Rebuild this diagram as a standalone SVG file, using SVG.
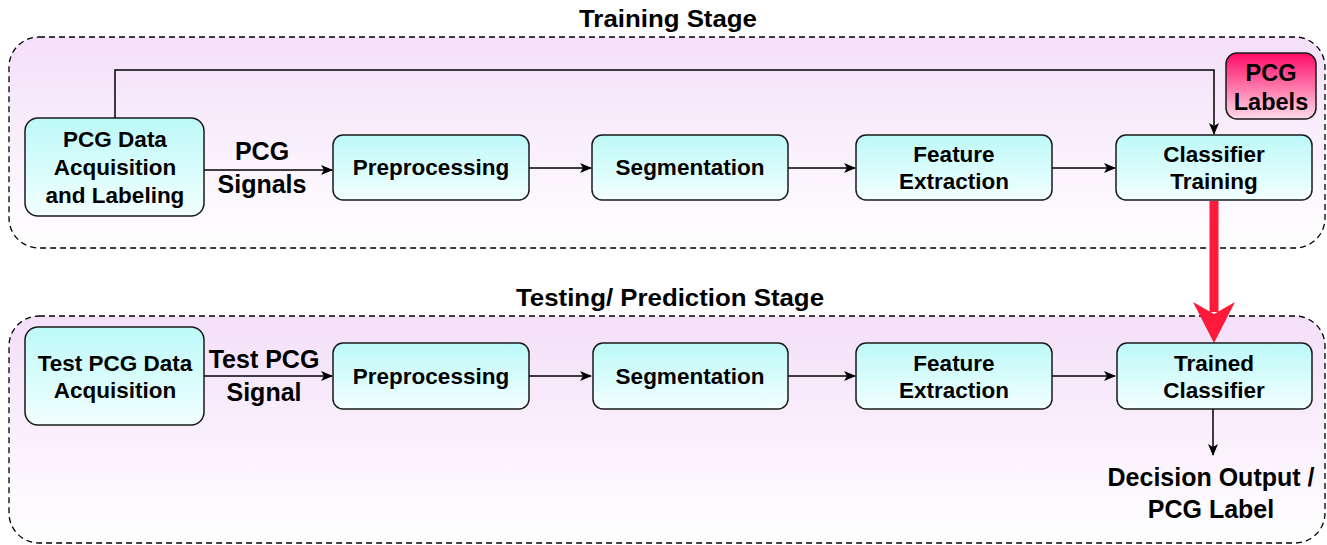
<svg xmlns="http://www.w3.org/2000/svg" width="1327" height="545" viewBox="0 0 1327 545">
  <defs>
    <linearGradient id="stageFill" x1="0" y1="0" x2="0" y2="1">
      <stop offset="0" stop-color="#f4dff9"/>
      <stop offset="1" stop-color="#ffffff"/>
    </linearGradient>
    <linearGradient id="nodeFill" x1="0" y1="0" x2="0" y2="1">
      <stop offset="0" stop-color="#bcf9f8"/>
      <stop offset="1" stop-color="#f3ffff"/>
    </linearGradient>
    <linearGradient id="labelFill" x1="0" y1="0" x2="0" y2="1">
      <stop offset="0" stop-color="#ff0a64"/>
      <stop offset="1" stop-color="#ffdcea"/>
    </linearGradient>
    <marker id="arrow" viewBox="0 0 12 10" refX="11" refY="5" markerWidth="12" markerHeight="10" markerUnits="userSpaceOnUse" orient="auto">
      <path d="M0,0 L12,5 L0,10 L3,5 Z" fill="#000"/>
    </marker>
  </defs>
  <style>
    .stage { fill: url(#stageFill); stroke: #000; stroke-width: 1.3; stroke-dasharray: 6 4; }
    .node { fill: url(#nodeFill); stroke: #1a1a1a; stroke-width: 1.5; }
    .labels { fill: url(#labelFill); stroke: #1a1a1a; stroke-width: 1.5; }
    text { font-family: "Liberation Sans", Arial, sans-serif; font-weight: bold; fill: #000; text-anchor: middle; }
    .t { font-size: 22.5px; }
    .lbl { font-size: 23.5px; }
    .edge { font-size: 25px; }
    .title { font-size: 24px; }
    .flow { fill: none; stroke: #000; stroke-width: 1.5; marker-end: url(#arrow); }
  </style>

  <!-- stage containers -->
  <g id="training-stage">
    <rect class="stage" x="9" y="37" width="1316" height="211" rx="30"/>
    <text class="title" x="668" y="27" textLength="178" lengthAdjust="spacingAndGlyphs">Training Stage</text>
  </g>
  <g id="testing-stage">
    <rect class="stage" x="9" y="316" width="1316" height="227" rx="30"/>
    <text class="title" x="670" y="306" textLength="308" lengthAdjust="spacingAndGlyphs">Testing/ Prediction Stage</text>
  </g>

  <!-- connectors -->
  <g id="connectors">
    <path class="flow" d="M115,118 V70 H1214 V134"/>
    <path class="flow" d="M204,170 H332"/>
    <path class="flow" d="M529,168 H591"/>
    <path class="flow" d="M788,168 H855"/>
    <path class="flow" d="M1052,168 H1115"/>

    <path class="flow" d="M204,376 H332"/>
    <path class="flow" d="M529,376 H591"/>
    <path class="flow" d="M788,376 H855"/>
    <path class="flow" d="M1052,376 H1115"/>
    <path class="flow" d="M1213,409 V455"/>

    <line x1="1214" y1="201" x2="1214" y2="312" stroke="#ff1a3c" stroke-width="9"/>
    <polygon points="1193,302 1214,314 1235,302 1214,343" fill="#ff1a3c"/>

    <text class="edge" x="262" y="160">PCG</text>
    <text class="edge" x="262" y="193">Signals</text>
    <text class="edge" x="264" y="368">Test PCG</text>
    <text class="edge" x="264" y="401">Signal</text>
  </g>

  <!-- training nodes -->
  <g id="pcg-data-acquisition">
    <rect class="node" x="25" y="118" width="179" height="98" rx="13"/>
    <text class="t" x="115" y="147">PCG Data</text>
    <text class="t" x="115" y="175">Acquisition</text>
    <text class="t" x="115" y="203">and Labeling</text>
  </g>
  <g id="train-preprocessing">
    <rect class="node" x="333" y="135" width="196" height="65" rx="10"/>
    <text class="t" x="431" y="175">Preprocessing</text>
  </g>
  <g id="train-segmentation">
    <rect class="node" x="592" y="135" width="196" height="65" rx="10"/>
    <text class="t" x="690" y="175">Segmentation</text>
  </g>
  <g id="train-feature-extraction">
    <rect class="node" x="856" y="135" width="196" height="65" rx="10"/>
    <text class="t" x="954" y="162">Feature</text>
    <text class="t" x="954" y="189">Extraction</text>
  </g>
  <g id="classifier-training">
    <rect class="node" x="1116" y="135" width="196" height="65" rx="10"/>
    <text class="t" x="1214" y="162">Classifier</text>
    <text class="t" x="1214" y="189">Training</text>
  </g>
  <g id="pcg-labels">
    <rect class="labels" x="1226" y="53" width="90" height="66" rx="11"/>
    <text class="lbl" x="1271" y="81">PCG</text>
    <text class="lbl" x="1271" y="110">Labels</text>
  </g>

  <!-- testing nodes -->
  <g id="test-pcg-data-acquisition">
    <rect class="node" x="25" y="327" width="179" height="98" rx="13"/>
    <text class="t" x="115" y="371">Test PCG Data</text>
    <text class="t" x="115" y="398">Acquisition</text>
  </g>
  <g id="test-preprocessing">
    <rect class="node" x="333" y="343" width="196" height="66" rx="10"/>
    <text class="t" x="431" y="384">Preprocessing</text>
  </g>
  <g id="test-segmentation">
    <rect class="node" x="593" y="343" width="195" height="66" rx="10"/>
    <text class="t" x="690" y="384">Segmentation</text>
  </g>
  <g id="test-feature-extraction">
    <rect class="node" x="856" y="343" width="196" height="66" rx="10"/>
    <text class="t" x="954" y="371">Feature</text>
    <text class="t" x="954" y="398">Extraction</text>
  </g>
  <g id="trained-classifier">
    <rect class="node" x="1117" y="343" width="195" height="66" rx="10"/>
    <text class="t" x="1214" y="371">Trained</text>
    <text class="t" x="1214" y="398">Classifier</text>
  </g>
  <g id="decision-output">
    <text class="edge" x="1211" y="486" font-size="25.5">Decision Output /</text>
    <text class="edge" x="1211" y="518" font-size="25.5">PCG Label</text>
  </g>
</svg>
